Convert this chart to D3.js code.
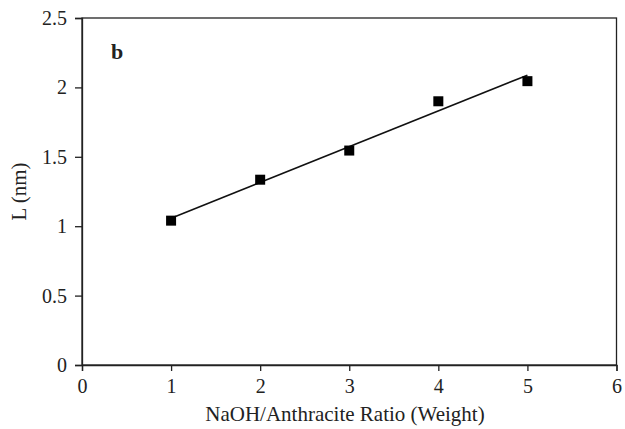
<!DOCTYPE html>
<html>
<head>
<meta charset="utf-8">
<script src="https://cdn.jsdelivr.net/npm/d3@7"></script>
<style>
  body { margin: 0; background: #fff; }
  svg text { font-family: "Liberation Serif", "DejaVu Serif", serif; fill: #222; }
</style>
</head>
<body>
<div id="chart"></div>
<script>
// values
var ratios = [1, 2, 3, 4, 5];
var lengths = [1.04, 1.335, 1.545, 1.9, 2.045];
var xTicks = [0, 1, 2, 3, 4, 5, 6];
var yTicks = [0, 0.5, 1, 1.5, 2, 2.5];

var width = 625, height = 429;
var margin = { left: 82, right: 8, top: 18, bottom: 64 };

var svg = d3.select("#chart").append("svg")
    .attr("width", width)
    .attr("height", height);

var x = d3.scaleLinear().domain([0, 6]).range([margin.left, width - margin.right - 0.5]);
var y = d3.scaleLinear().domain([0, 2.5]).range([height - margin.bottom, margin.top]);

// frame
svg.append("rect")
    .attr("x", x(0)).attr("y", y(2.5))
    .attr("width", x(6) - x(0)).attr("height", y(0) - y(2.5))
    .attr("fill", "none").attr("stroke", "#222").attr("stroke-width", 1.3);

var xAxis = svg.append("g")
    .attr("transform", "translate(0," + y(0) + ")")
    .call(d3.axisBottom(x).tickValues(xTicks).tickFormat(d3.format("d")).tickSize(6).tickPadding(8));
var yAxis = svg.append("g")
    .attr("transform", "translate(" + x(0) + ",0)")
    .call(d3.axisLeft(y).tickValues(yTicks).tickFormat(function (d) { return d; }).tickSize(7).tickPadding(8));

[xAxis, yAxis].forEach(function (g) {
    g.select(".domain").attr("stroke", "#222").attr("stroke-width", 1.3);
    g.selectAll(".tick line").attr("stroke", "#222").attr("stroke-width", 1.3);
    g.selectAll(".tick text").attr("font-size", 20).attr("font-family", null).attr("fill", "#222");
});

// least squares trend line
var mx = d3.mean(ratios), my = d3.mean(lengths);
var slope = d3.sum(ratios, function (r, i) { return (r - mx) * (lengths[i] - my); }) /
    d3.sum(ratios, function (r) { return (r - mx) * (r - mx); });
var icpt = my - slope * mx;
var ends = [d3.min(ratios), d3.max(ratios)];

svg.append("path")
    .datum(ends)
    .attr("d", d3.line().x(function (d) { return x(d); }).y(function (d) { return y(icpt + slope * d); }))
    .attr("stroke", "#111").attr("stroke-width", 1.6).attr("fill", "none");

svg.selectAll(".pt")
    .data(ratios)
    .enter().append("rect")
    .attr("class", "pt")
    .attr("x", function (d) { return x(d) - 5; })
    .attr("y", function (d, i) { return y(lengths[i]) - 5; })
    .attr("width", 10).attr("height", 10)
    .attr("fill", "#000");

svg.append("text")
    .attr("x", 111).attr("y", 59)
    .attr("font-size", 22).attr("font-weight", "bold")
    .text("b");

svg.append("text")
    .attr("x", 345).attr("y", 421)
    .attr("text-anchor", "middle")
    .attr("font-size", 21)
    .text("NaOH/Anthracite Ratio (Weight)");

svg.append("text")
    .attr("transform", "translate(26," + y(1.25) + ") rotate(-90)")
    .attr("text-anchor", "middle")
    .attr("font-size", 21)
    .text("L (nm)");
</script>
</body>
</html>
